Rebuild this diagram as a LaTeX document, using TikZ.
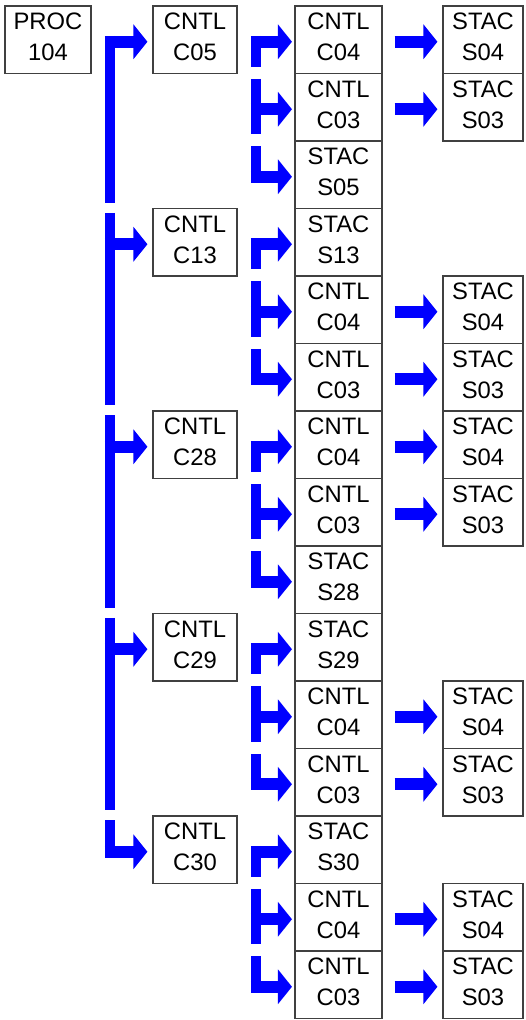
\documentclass[tikz,border=0pt]{standalone}
\usepackage{fontspec}
\setmainfont{Liberation Sans}
\usepackage{tikz}
\usetikzlibrary{arrows.meta}
\definecolor{boxgray}{HTML}{404040}
\definecolor{linkblue}{HTML}{0000FF}
\tikzset{
  box/.style={draw=boxgray,line width=1.1pt,align=center,inner sep=0pt,
              font=\fontsize{23.8}{31}\selectfont,minimum height=67.5pt,text depth=6pt},
  ctlbox/.style={box,minimum width=84pt},
  midbox/.style={box,minimum width=87pt},
  leafbox/.style={box,minimum width=80pt},
  link/.style={-{Triangle[length=14pt,width=34pt]},line width=12pt,linkblue},
  bar/.style={line width=10.5pt,linkblue},
}
\begin{document}
\begin{tikzpicture}[x=1pt,y=-1pt]
  \useasboundingbox (0,0) rectangle (525,1020);
  \node[box,minimum width=86pt] (proc) at (48,39.75) {PROC\\104};
  \foreach \n/\r in {05/0, 13/3, 28/6, 29/9, 30/12}{
    \node[ctlbox] (ctl\n) at (195,39.75+67.5*\r) {CNTL\\C\n};}
  \foreach \r/\k/\i in {0/CNTL/C04, 1/CNTL/C03, 2/STAC/S05, 3/STAC/S13, 4/CNTL/C04,
      5/CNTL/C03, 6/CNTL/C04, 7/CNTL/C03, 8/STAC/S28, 9/STAC/S29, 10/CNTL/C04,
      11/CNTL/C03, 12/STAC/S30, 13/CNTL/C04, 14/CNTL/C03}{
    \node[midbox] (mid\r) at (338.5,39.75+67.5*\r) {\k\\\i};}
  \foreach \r/\i in {0/S04, 1/S03, 4/S04, 5/S03, 6/S04, 7/S03, 10/S04, 11/S03, 13/S04, 14/S03}{
    \node[leafbox] (leaf\r) at (483,39.75+67.5*\r) {STAC\\\i};}
  \coordinate (trunk) at (110,0);
  \coordinate (branch) at (256,0);
  \draw[bar] ([yshift=4pt]trunk |- ctl05.west) -- ([yshift=5pt]trunk |- ctl13.north);
  \foreach \a/\b in {ctl13/ctl28, ctl28/ctl29, ctl29/ctl30}{
    \draw[bar] ([yshift=-5pt]trunk |- \a.north) -- ([yshift=5pt]trunk |- \b.north);}
  \draw[bar] ([yshift=-5pt]trunk |- ctl30.north) -- ([yshift=-8pt]trunk |- ctl30.west);
  \foreach \n in {ctl05, ctl13, ctl28, ctl29, ctl30}{
    \draw[link,shorten >=5pt] ([xshift=-5.25pt,yshift=-2pt]trunk |- \n.west) -- ([yshift=-2pt]\n.west);}
  \foreach \g in {0,3,6,9,12}{
    \pgfmathtruncatemacro\p{\g+1}
    \pgfmathtruncatemacro\q{\g+2}
    \draw[bar] ([yshift=4pt]branch |- mid\g.west) -- ([yshift=6pt]branch |- mid\p.north);
    \draw[bar] ([yshift=-6pt]branch |- mid\p.north) -- ([yshift=6pt]branch |- mid\q.north);
    \draw[bar] ([yshift=-6pt]branch |- mid\q.north) -- ([yshift=-8pt]branch |- mid\q.west);}
  \foreach \r in {0,...,14}{
    \draw[link,shorten >=2.5pt] ([xshift=-5.25pt,yshift=-2pt]branch |- mid\r.west) -- ([yshift=-2pt]mid\r.west);}
  \foreach \r in {0,1,4,5,6,7,10,11,13,14}{
    \draw[link,shorten <=12pt,shorten >=5pt] ([yshift=-2pt]mid\r.east) -- ([yshift=-2pt]leaf\r.west);}
\end{tikzpicture}
\end{document}
